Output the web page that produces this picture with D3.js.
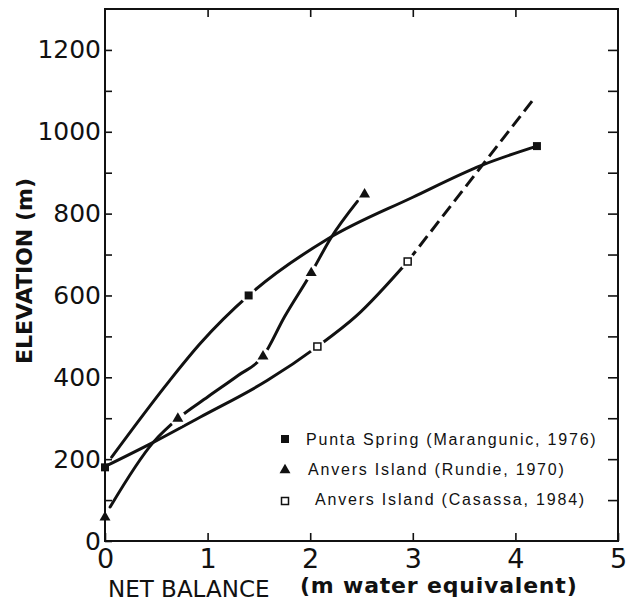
<!DOCTYPE html>
<html>
<head>
<meta charset="utf-8">
<script src="https://cdn.jsdelivr.net/npm/d3@7"></script>
<style>
  body { margin: 0; background: #fff; }
  svg { display: block; }
</style>
</head>
<body>
<div id="chart"></div>
<script>
let width = 626
let height = 601

// markers [net balance (m w.e.), elevation (m)]
const puntaPoints = [[0, 180], [1.40, 600], [4.21, 965]]
const rundiePoints = [[0, 58], [0.71, 299], [1.54, 451], [2.01, 655], [2.53, 847]]
const casassaPoints = [[2.07, 475], [2.95, 683]]

// fitted curves
const puntaCurve = [[0.065, 205], [0.63, 392], [0.93, 483], [1.40, 600], [2.17, 738], [3.0, 840], [3.67, 918], [4.21, 965]]
const rundieCurve = [[0.05, 83], [0.47, 241], [0.71, 299], [1.0, 352], [1.3, 405], [1.54, 451], [1.75, 548], [2.01, 655], [2.2, 740], [2.46, 830]]
const casassaCurve = [[0, 182], [0.47, 241], [0.93, 303], [1.58, 392], [2.07, 475], [2.45, 550], [2.95, 683]]
const casassaExtension = [[2.95, 683], [4.19, 1084]]

const xTicks = [0, 1, 2, 3, 4, 5]
const yTicks = [0, 100, 200, 300, 400, 500, 600, 700, 800, 900, 1000, 1100, 1200]
const yLabelTicks = [0, 200, 400, 600, 800, 1000, 1200]

const legendLabels = ['Punta Spring (Marangunic, 1976)', 'Anvers Island (Rundie, 1970)', 'Anvers Island (Casassa, 1984)']
const legendShapes = ['square', 'triangle', 'open']

let svg = d3.select('#chart')
            .append('svg')
            .attr('width', width)
            .attr('height', height)

svg.append('rect')
    .attr('width', width)
    .attr('height', height)
    .attr('fill', '#fff')

let xScale = d3.scaleLinear()
            .domain([0, 5])
            .range([105, 618])

let yScale = d3.scaleLinear()
            .domain([0, 1300])
            .range([541, 9])

let line = d3.line()
            .x(d => xScale(d[0]))
            .y(d => yScale(d[1]))
            .curve(d3.curveMonotoneX)

let curves = svg.append('g')
            .attr('fill', 'none')
            .attr('stroke', '#111')
            .attr('stroke-width', 3)
            .attr('stroke-linecap', 'round')

curves.append('path').attr('d', line(puntaCurve))
curves.append('path').attr('d', line(rundieCurve))
curves.append('path').attr('d', line(casassaCurve))
curves.append('path')
    .attr('d', line(casassaExtension))
    .attr('stroke-linecap', 'butt')
    .attr('stroke-dasharray', '13,6')

// white gaps where the curves meet the markers
let interior = puntaPoints.slice(1, 2)
                .concat(rundiePoints.slice(1))
                .concat(casassaPoints)

svg.append('g')
    .selectAll('circle')
    .data(interior)
    .enter()
    .append('circle')
    .attr('cx', d => xScale(d[0]))
    .attr('cy', d => yScale(d[1]))
    .attr('r', 8)
    .attr('fill', '#fff')

// frame
svg.append('rect')
    .attr('x', xScale(0))
    .attr('y', yScale(1300))
    .attr('width', xScale(5) - xScale(0))
    .attr('height', yScale(0) - yScale(1300))
    .attr('fill', 'none')
    .attr('stroke', '#111')
    .attr('stroke-width', 2)

let tickFont = 'DejaVu Sans, Verdana, sans-serif'

let yAxis = svg.append('g')
    .attr('transform', 'translate(' + xScale(0) + ',0)')
    .call(d3.axisLeft(yScale)
        .tickValues(yTicks)
        .tickSize(-7)
        .tickSizeOuter(0)
        .tickPadding(4)
        .tickFormat(d => yLabelTicks.includes(d) ? d : ''))

yAxis.select('.domain').remove()
yAxis.selectAll('line').attr('stroke', '#111').attr('stroke-width', 1.6)
yAxis.selectAll('text')
    .attr('fill', '#111')
    .style('font-family', tickFont)
    .style('font-size', '25px')

let xAxis = svg.append('g')
    .attr('transform', 'translate(0,' + yScale(0) + ')')
    .call(d3.axisBottom(xScale)
        .tickValues(xTicks)
        .tickSize(-8)
        .tickSizeOuter(0)
        .tickPadding(8)
        .tickFormat(d3.format('d')))

xAxis.select('.domain').remove()
xAxis.selectAll('line').attr('stroke', '#111').attr('stroke-width', 1.6)
xAxis.selectAll('text')
    .attr('fill', '#111')
    .style('font-family', tickFont)
    .style('font-size', '27px')

let topAxis = svg.append('g')
    .attr('transform', 'translate(0,' + yScale(1300) + ')')
    .call(d3.axisTop(xScale)
        .tickValues(xTicks.slice(1, 5))
        .tickSize(-8)
        .tickSizeOuter(0)
        .tickFormat(''))

topAxis.select('.domain').remove()
topAxis.selectAll('line').attr('stroke', '#111').attr('stroke-width', 1.6)

let rightAxis = svg.append('g')
    .attr('transform', 'translate(' + xScale(5) + ',0)')
    .call(d3.axisRight(yScale)
        .tickValues(yTicks.slice(1))
        .tickSize(-10)
        .tickSizeOuter(0)
        .tickFormat(''))

rightAxis.select('.domain').remove()
rightAxis.selectAll('line').attr('stroke', '#111').attr('stroke-width', 1.6)

// markers
let square = d3.symbol().type(d3.symbolSquare).size(64)
let triangle = d3.symbol().type(d3.symbolTriangle).size(52)
let openSquare = d3.symbol().type(d3.symbolSquare).size(49)

svg.append('g')
    .selectAll('path')
    .data(puntaPoints)
    .enter()
    .append('path')
    .attr('d', square)
    .attr('transform', d => 'translate(' + xScale(d[0]) + ',' + yScale(d[1]) + ')')
    .attr('fill', '#111')

svg.append('g')
    .selectAll('path')
    .data(rundiePoints)
    .enter()
    .append('path')
    .attr('d', triangle)
    .attr('transform', d => 'translate(' + xScale(d[0]) + ',' + yScale(d[1]) + ')')
    .attr('fill', '#111')

svg.append('g')
    .selectAll('path')
    .data(casassaPoints)
    .enter()
    .append('path')
    .attr('d', openSquare)
    .attr('transform', d => 'translate(' + xScale(d[0]) + ',' + yScale(d[1]) + ')')
    .attr('fill', '#fff')
    .attr('stroke', '#111')
    .attr('stroke-width', 1.5)

// legend
let legend = svg.append('g')
let legendX = [306, 308, 315]

legend.selectAll('path')
    .data(legendShapes)
    .enter()
    .append('path')
    .attr('d', d => d === 'square' ? square() : d === 'triangle' ? triangle() : openSquare())
    .attr('transform', (d, i) => 'translate(285,' + (439 + i * 31) + ')')
    .attr('fill', d => d === 'open' ? '#fff' : '#111')
    .attr('stroke', d => d === 'open' ? '#111' : 'none')
    .attr('stroke-width', 1.5)

legend.selectAll('text')
    .data(legendLabels)
    .enter()
    .append('text')
    .attr('x', (d, i) => legendX[i])
    .attr('y', (d, i) => 445 + i * 30)
    .attr('fill', '#111')
    .style('font-family', 'Liberation Sans, Arial, sans-serif')
    .style('font-size', '16px')
    .style('letter-spacing', '1.8px')
    .text(d => d)

// axis titles
svg.append('text')
    .attr('transform', 'translate(32,271) rotate(-90)')
    .attr('text-anchor', 'middle')
    .attr('fill', '#111')
    .style('font-family', 'DejaVu Sans, sans-serif')
    .style('font-weight', 'bold')
    .style('font-size', '22px')
    .text('ELEVATION (m)')

svg.append('text')
    .attr('x', 108)
    .attr('y', 597)
    .attr('fill', '#111')
    .style('font-family', 'DejaVu Sans, sans-serif')
    .style('font-size', '23px')
    .text('NET BALANCE')

svg.append('text')
    .attr('x', 300)
    .attr('y', 593)
    .attr('fill', '#111')
    .style('font-family', 'DejaVu Sans, sans-serif')
    .style('font-weight', 'bold')
    .style('font-size', '22px')
    .style('letter-spacing', '0.8px')
    .text('(m water equivalent)')
</script>
</body>
</html>
